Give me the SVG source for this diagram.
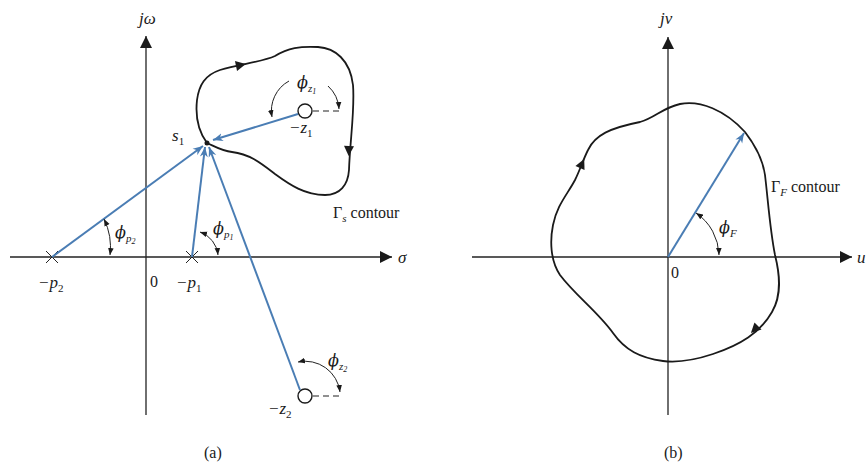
<svg xmlns="http://www.w3.org/2000/svg" width="866" height="465" viewBox="0 0 866 465">
<style>
.ax{stroke:#222;stroke-width:1.3;fill:none}
.ct{stroke:#1a1a1a;stroke-width:1.8;fill:none}
.vec{stroke:#4a7db4;stroke-width:2;fill:none}
.thin{stroke:#222;stroke-width:1;fill:none}
.dash{stroke:#222;stroke-width:1.2;fill:none;stroke-dasharray:6,4}
text{font-family:"Liberation Serif","Times New Roman",serif;fill:#1a1a1a}
.m{font-style:italic;font-size:17px}
.s{font-style:italic;font-size:11px}
.n{font-size:16px}
.phi{font-family:"DejaVu Serif",serif;font-style:italic;font-size:16px}
</style>
<defs>
<marker id="ah" viewBox="0 0 10 10" refX="10" refY="5" markerWidth="12" markerHeight="12" markerUnits="userSpaceOnUse" orient="auto"><path d="M0,0 L10,5 L0,10 Z" fill="#1a1a1a"/></marker>
<marker id="bh" viewBox="0 0 10 10" refX="10" refY="5" markerWidth="10" markerHeight="10" markerUnits="userSpaceOnUse" orient="auto"><path d="M0,1 L10,5 L0,9 L3,5 Z" fill="#4a7db4"/></marker>
<marker id="sh" viewBox="0 0 10 10" refX="10" refY="5" markerWidth="7" markerHeight="7" markerUnits="userSpaceOnUse" orient="auto-start-reverse"><path d="M0,1 L10,5 L0,9 Z" fill="#1a1a1a"/></marker>
</defs>

<g id="axes-a">
<line class="ax" x1="146" y1="415" x2="146" y2="36" marker-end="url(#ah)"/>
<line class="ax" x1="10" y1="257" x2="392" y2="257" marker-end="url(#ah)"/>
<text class="m" x="139" y="24">jω</text>
<text class="m" x="398" y="263">σ</text>
<text class="n" x="150" y="287">0</text>
</g>

<g id="contour-s">
<path class="ct" d="M207,143 C199,132 195,118 197,100 C199,85 205,75 220,70 C240,64 262,62 275,56 C288,48 300,46 318,47 C335,48 350,60 353,85 C355,110 350,140 349,170 C348,185 340,195 325,195 C305,195 290,185 275,174 C262,164 250,154 232,152 C222,151 214,146 207,143 Z"/>
<polygon points="0,-5 10,0 0,5" fill="#1a1a1a" transform="translate(236,66) rotate(-12)"/>
<polygon points="0,-5 10,0 0,5" fill="#1a1a1a" transform="translate(349,146) rotate(92)"/>
<text x="333" y="218" font-size="16">Γ<tspan class="s" dy="4">s</tspan><tspan dy="-4"> contour</tspan></text>
</g>

<g id="s1">
<circle cx="207" cy="143" r="2.5" fill="#1a1a1a"/>
<text class="m" x="172" y="141">s<tspan font-size="11" font-style="normal" dy="4">1</tspan></text>
</g>

<g id="p2">
<path class="thin" d="M46,251 L58,263 M46,263 L58,251" stroke-width="1.4"/>
<text class="m" x="38" y="288">−p<tspan font-size="11" font-style="normal" dy="4">2</tspan></text>
</g>
<g id="p1">
<path class="thin" d="M186,251 L198,263 M186,263 L198,251" stroke-width="1.4"/>
<text class="m" x="176" y="288">−p<tspan font-size="11" font-style="normal" dy="4">1</tspan></text>
</g>
<g id="z1">
<circle cx="305" cy="111" r="7" fill="#fff" stroke="#1a1a1a" stroke-width="1.4"/>
<path class="dash" d="M313,111 L340,111"/>
<text class="m" x="289" y="133">−z<tspan font-size="11" font-style="normal" dy="4">1</tspan></text>
</g>
<g id="z2">
<circle cx="305" cy="396" r="7" fill="#fff" stroke="#1a1a1a" stroke-width="1.4"/>
<path class="dash" d="M313,396 L340,396"/>
<text class="m" x="268" y="414">−z<tspan font-size="11" font-style="normal" dy="4">2</tspan></text>
</g>

<g id="vectors-a">
<line class="vec" x1="52" y1="257" x2="203" y2="146" marker-end="url(#bh)"/>
<line class="vec" x1="192" y1="257" x2="205" y2="147" marker-end="url(#bh)"/>
<line class="vec" x1="300" y1="390" x2="209" y2="147" marker-end="url(#bh)"/>
<line class="vec" x1="298" y1="114" x2="213" y2="140" marker-end="url(#bh)"/>
</g>

<g id="angles-a">
<path class="thin" d="M104,219 A64,64 0 0 1 110,255" marker-end="url(#sh)" marker-start="url(#sh)"/>
<text x="115" y="238"><tspan class="phi">ϕ</tspan><tspan class="s" dy="4">p</tspan><tspan font-size="8" font-style="italic" dy="2">2</tspan></text>
<path class="thin" d="M200,232 A27,27 0 0 1 218,255" marker-end="url(#sh)" marker-start="url(#sh)"/>
<text x="213" y="234"><tspan class="phi">ϕ</tspan><tspan class="s" dy="4">p</tspan><tspan font-size="8" font-style="italic" dy="2">1</tspan></text>
<path class="thin" d="M272,117 A34,34 0 0 1 289,81" marker-start="url(#sh)"/>
<path class="thin" d="M328,86 A34,34 0 0 1 339,109" marker-end="url(#sh)"/>
<text x="297" y="88"><tspan class="phi">ϕ</tspan><tspan class="s" dy="4">z</tspan><tspan font-size="8" font-style="italic" dy="2">1</tspan></text>
<path class="thin" d="M298,362 A35,35 0 0 1 340,392" marker-end="url(#sh)" marker-start="url(#sh)"/>
<text x="328" y="366"><tspan class="phi">ϕ</tspan><tspan class="s" dy="4">z</tspan><tspan font-size="8" font-style="italic" dy="2">2</tspan></text>
</g>

<text class="n" x="204" y="458" font-size="14">(a)</text>

<g id="axes-b">
<line class="ax" x1="668" y1="415" x2="668" y2="37" marker-end="url(#ah)"/>
<line class="ax" x1="472" y1="257" x2="852" y2="257" marker-end="url(#ah)"/>
<text class="m" x="660" y="24">jv</text>
<text class="m" x="857" y="263">u</text>
<text class="n" x="671" y="278">0</text>
</g>

<g id="contour-f">
<path class="ct" d="M745,132 C755,145 763,160 765,175 C768,200 770,230 775,255 C780,275 782,295 772,312 C760,333 740,345 713,354 C695,360 680,363 663,361 C640,358 625,350 613,333 C598,312 575,295 560,275 C550,260 550,240 553,225 C557,205 567,195 575,180 C580,170 583,160 588,150 C595,135 610,128 640,122 C655,118 662,108 680,104 C700,100 725,110 745,132 Z"/>
<polygon points="0,-5 10,0 0,5" fill="#1a1a1a" transform="translate(580,168) rotate(-65)"/>
<polygon points="0,-5 10,0 0,5" fill="#1a1a1a" transform="translate(758,326) rotate(135)"/>
<text x="771" y="192" font-size="16">Γ<tspan class="s" dy="4">F</tspan><tspan dy="-4"> contour</tspan></text>
</g>

<g id="vector-f">
<line class="vec" x1="668" y1="257" x2="744" y2="133" marker-end="url(#bh)"/>
<path class="thin" d="M696,213 A52,52 0 0 1 719,255" marker-end="url(#sh)" marker-start="url(#sh)"/>
<text x="719" y="233"><tspan class="phi">ϕ</tspan><tspan class="s" dy="4">F</tspan></text>
</g>

<text class="n" x="664" y="458" font-size="14">(b)</text>
</svg>
